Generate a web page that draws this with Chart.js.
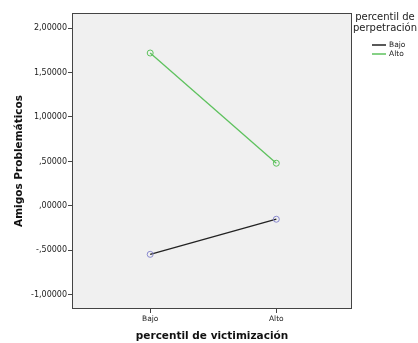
<!DOCTYPE html>
<html>
<head>
<meta charset="utf-8">
<script src="https://cdn.jsdelivr.net/npm/chart.js@4"></script>
<style>
    html, body { margin: 0; padding: 0; background: #ffffff; }
    #wrap { width: 418px; height: 343px; }
</style>
</head>
<body>
<div id="wrap"><canvas id="myChart" width="418" height="343"></canvas></div>
<script>
// data
const categories = ['Bajo', 'Alto'];
const seriesNames = ['Bajo', 'Alto'];
const bajoValues = [-0.545, -0.150];
const altoValues = [1.72, 0.48];
const yTicks = [-1, -0.5, 0, 0.5, 1, 1.5, 2];
const yTickLabels = ['-1,00000', '-,50000', ',00000', ',50000', '1,00000', '1,50000', '2,00000'];

const FONT = 'DejaVu Sans, sans-serif';

// plot frame + grey background
const framePlugin = {
    id: 'frame',
    beforeDatasetsDraw(chart) {
        const a = chart.chartArea;
        const ctx = chart.ctx;
        ctx.save();
        ctx.fillStyle = '#f0f0f0';
        ctx.fillRect(a.left, a.top, a.right - a.left, a.bottom - a.top);
        ctx.restore();
    },
    afterDatasetsDraw(chart) {
        const a = chart.chartArea;
        const ctx = chart.ctx;
        ctx.save();
        ctx.strokeStyle = '#444444';
        ctx.lineWidth = 1;
        ctx.strokeRect(a.left + 0.5, a.top + 0.5, a.right - a.left - 1, a.bottom - a.top - 1);
        ctx.restore();
    }
};

// legend on the right, with a two line title
const legendPlugin = {
    id: 'sideLegend',
    afterDraw(chart) {
        const ctx = chart.ctx;
        const cx = 385;
        ctx.save();
        ctx.fillStyle = '#222222';
        ctx.textAlign = 'center';
        ctx.textBaseline = 'middle';
        ctx.font = '10px ' + FONT;
        ctx.fillText('percentil de', cx, 17);
        ctx.fillText('perpetración', cx, 28);
        ctx.font = '7.5px ' + FONT;
        ctx.textAlign = 'left';
        chart.data.datasets.forEach((ds, i) => {
            const y = 45 + i * 9;
            ctx.strokeStyle = ds.borderColor;
            ctx.lineWidth = 1.5;
            ctx.beginPath();
            ctx.moveTo(372, y);
            ctx.lineTo(386, y);
            ctx.stroke();
            ctx.fillStyle = '#222222';
            ctx.fillText(ds.label, 389, y);
        });
        ctx.restore();
    }
};

new Chart(document.getElementById('myChart'), {
    type: 'line',
    data: {
        datasets: [
            {
                label: seriesNames[0],
                data: bajoValues.map((v, i) => ({ x: i, y: v })),
                borderColor: '#222222',
                borderWidth: 1.3,
                pointRadius: 3,
                pointBorderColor: '#8a8ad0',
                pointBackgroundColor: 'rgba(0,0,0,0)',
                pointBorderWidth: 1,
                tension: 0
            },
            {
                label: seriesNames[1],
                data: altoValues.map((v, i) => ({ x: i, y: v })),
                borderColor: '#5ec25e',
                borderWidth: 1.3,
                pointRadius: 3,
                pointBorderColor: '#5ec25e',
                pointBackgroundColor: 'rgba(0,0,0,0)',
                pointBorderWidth: 1,
                tension: 0
            }
        ]
    },
    options: {
        responsive: false,
        animation: false,
        layout: { padding: { left: 0, right: 66, top: 13, bottom: 0 } },
        plugins: {
            legend: { display: false },
            tooltip: { enabled: false }
        },
        scales: {
            x: {
                type: 'linear',
                min: -0.62,
                max: 1.6,
                afterBuildTicks(axis) {
                    axis.ticks = categories.map((c, i) => ({ value: i }));
                },
                afterFit(axis) { axis.height = 34; },
                grid: { drawOnChartArea: false, drawTicks: true, tickLength: 4, color: '#444444' },
                border: { display: false },
                ticks: {
                    callback: (v) => categories[v],
                    font: { family: FONT, size: 7.5 },
                    color: '#222222',
                    padding: 2,
                    maxRotation: 0
                },
                title: {
                    display: true,
                    text: 'percentil de victimización',
                    font: { family: FONT, size: 10.5, weight: 'bold' },
                    color: '#111111',
                    padding: { top: 3, bottom: 0 }
                }
            },
            y: {
                min: -1.16,
                max: 2.17,
                afterBuildTicks(axis) {
                    axis.ticks = yTicks.map(v => ({ value: v }));
                },
                afterFit(axis) { axis.width = 72; },
                grid: { drawOnChartArea: false, drawTicks: true, tickLength: 4, color: '#444444' },
                border: { display: false },
                ticks: {
                    callback: (v) => yTickLabels[yTicks.indexOf(v)],
                    font: { family: FONT, size: 8 },
                    color: '#222222',
                    padding: 1
                },
                title: {
                    display: true,
                    text: 'Amigos Problemáticos',
                    font: { family: FONT, size: 10.5, weight: 'bold' },
                    color: '#111111',
                    padding: { top: 13, bottom: 4 }
                }
            }
        }
    },
    plugins: [framePlugin, legendPlugin]
});
</script>
</body>
</html>
